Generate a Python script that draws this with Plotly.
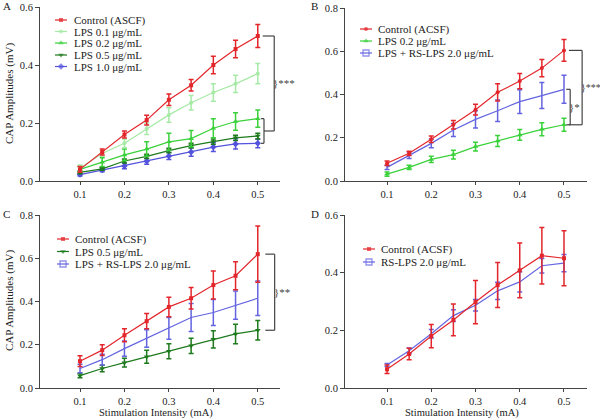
import plotly.graph_objects as go

# Stimulation intensities (mA)
intensity = [0.1, 0.15, 0.2, 0.25, 0.3, 0.35, 0.4, 0.45, 0.5]
x_ticks = [0.1, 0.2, 0.3, 0.4, 0.5]

# Panel A
a_control = [0.04, 0.10, 0.16, 0.21, 0.28, 0.33, 0.40, 0.455, 0.50]
a_control_err = [0.01, 0.01, 0.012, 0.017, 0.02, 0.02, 0.03, 0.03, 0.04]
a_lps01 = [0.045, 0.095, 0.13, 0.18, 0.228, 0.27, 0.305, 0.335, 0.37]
a_lps01_err = [0.01, 0.01, 0.015, 0.02, 0.025, 0.025, 0.03, 0.03, 0.035]
a_lps02 = [0.04, 0.065, 0.09, 0.11, 0.135, 0.146, 0.182, 0.205, 0.215]
a_lps02_err = [0.01, 0.015, 0.02, 0.025, 0.03, 0.028, 0.033, 0.03, 0.03]
a_lps05 = [0.03, 0.042, 0.069, 0.085, 0.105, 0.122, 0.136, 0.149, 0.155]
a_lps05_err = [0.005, 0.005, 0.007, 0.007, 0.008, 0.008, 0.009, 0.009, 0.01]
a_lps10 = [0.022, 0.038, 0.052, 0.068, 0.086, 0.10, 0.117, 0.128, 0.13]
a_lps10_err = [0.005, 0.006, 0.01, 0.01, 0.012, 0.015, 0.015, 0.018, 0.015]

# Panel B
b_control = [0.082, 0.128, 0.193, 0.26, 0.33, 0.41, 0.462, 0.522, 0.604]
b_control_err = [0.01, 0.01, 0.015, 0.02, 0.025, 0.04, 0.035, 0.04, 0.05]
b_lps02 = [0.032, 0.063, 0.10, 0.122, 0.159, 0.185, 0.213, 0.239, 0.26]
b_lps02_err = [0.01, 0.01, 0.015, 0.02, 0.02, 0.025, 0.025, 0.03, 0.03]
b_rs = [0.063, 0.119, 0.174, 0.236, 0.285, 0.325, 0.367, 0.395, 0.424]
b_rs_err = [0.01, 0.015, 0.02, 0.03, 0.04, 0.05, 0.055, 0.06, 0.065]

# Panel C
c_control = [0.124, 0.175, 0.244, 0.309, 0.375, 0.415, 0.476, 0.519, 0.619]
c_control_err = [0.025, 0.025, 0.03, 0.035, 0.045, 0.05, 0.065, 0.065, 0.13]
c_lps05 = [0.057, 0.09, 0.117, 0.144, 0.17, 0.195, 0.225, 0.25, 0.267]
c_lps05_err = [0.01, 0.015, 0.02, 0.03, 0.035, 0.035, 0.04, 0.045, 0.045]
c_rs = [0.09, 0.131, 0.182, 0.229, 0.276, 0.326, 0.349, 0.383, 0.415]
c_rs_err = [0.02, 0.025, 0.035, 0.04, 0.05, 0.065, 0.06, 0.065, 0.08]

# Panel D
d_control = [0.065, 0.118, 0.18, 0.236, 0.298, 0.357, 0.408, 0.459, 0.45]
d_control_err = [0.015, 0.02, 0.04, 0.055, 0.075, 0.078, 0.095, 0.098, 0.095]
d_rs = [0.08, 0.129, 0.188, 0.251, 0.287, 0.337, 0.368, 0.424, 0.433]
d_rs_err = [0.005, 0.01, 0.015, 0.02, 0.02, 0.03, 0.035, 0.025, 0.03]

RED = "#e3262b"
LIGHT_GREEN = "#a6eaa6"
GREEN = "#3ad13a"
DARK_GREEN = "#1d7a1d"
BLUE = "#5252dc"
RS_BLUE = "#6464e0"
AX = "#444444"
FONT = "Liberation Serif"

fig = go.Figure()


def series(y, err, color, symbol, size, xa, ya, open_marker=False):
    marker = dict(color=color, symbol=symbol, size=size)
    if open_marker:
        marker = dict(color="rgba(0,0,0,0)", symbol=symbol, size=size,
                      line=dict(color=color, width=1.3))
    fig.add_trace(go.Scatter(
        x=intensity, y=y, mode="lines+markers", xaxis=xa, yaxis=ya,
        line=dict(color=color, width=1.2), marker=marker,
        error_y=dict(type="data", array=err, color=color, thickness=1.5, width=2.5),
        showlegend=False, hoverinfo="skip"))


series(a_lps10, a_lps10_err, BLUE, "diamond", 5, "x", "y")
series(a_lps05, a_lps05_err, DARK_GREEN, "triangle-down", 5, "x", "y")
series(a_lps02, a_lps02_err, GREEN, "triangle-up", 5, "x", "y")
series(a_lps01, a_lps01_err, LIGHT_GREEN, "circle", 4, "x", "y")
series(a_control, a_control_err, RED, "square", 4, "x", "y")

series(b_lps02, b_lps02_err, GREEN, "triangle-up", 5, "x2", "y2")
series(b_rs, b_rs_err, RS_BLUE, "square-open", 6, "x2", "y2", open_marker=True)
series(b_control, b_control_err, RED, "circle", 4, "x2", "y2")

series(c_lps05, c_lps05_err, DARK_GREEN, "triangle-down", 5, "x3", "y3")
series(c_rs, c_rs_err, RS_BLUE, "square-open", 6, "x3", "y3", open_marker=True)
series(c_control, c_control_err, RED, "square", 4, "x3", "y3")

series(d_rs, d_rs_err, RS_BLUE, "square-open", 6, "x4", "y4", open_marker=True)
series(d_control, d_control_err, RED, "square", 4, "x4", "y4")

# Custom compact legends drawn on an overlay axis in figure pixels
legends = [
    # (row y px, line x0, text x, entries)
    ([20, 31.5, 43, 55, 66.5], 55, 72,
     [("Control (ASCF)", RED, "square", 4), ("LPS 0.1 μg/mL", LIGHT_GREEN, "circle", 4),
      ("LPS 0.2 μg/mL", GREEN, "triangle-up", 5), ("LPS 0.5 μg/mL", DARK_GREEN, "triangle-down", 5),
      ("LPS 1.0 μg/mL", BLUE, "diamond", 5)]),
    ([29, 41, 53], 360, 376,
     [("Control (ACSF)", RED, "circle", 4), ("LPS 0.2 μg/mL", GREEN, "triangle-up", 5),
      ("LPS + RS-LPS 2.0 μg/mL", RS_BLUE, "square-open", 6)]),
    ([239, 251.5, 264], 57, 73,
     [("Control (ACSF)", RED, "square", 4), ("LPS 0.5 μg/mL", DARK_GREEN, "triangle-down", 5),
      ("LPS + RS-LPS 2.0 μg/mL", RS_BLUE, "square-open", 6)]),
    ([249, 262], 363, 379,
     [("Control (ACSF)", RED, "square", 4), ("RS-LPS 2.0 μg/mL", RS_BLUE, "square-open", 6)]),
]

annotations = []
for rows, lx, tx, entries in legends:
    for ry, (name, color, symbol, size) in zip(rows, entries):
        fig.add_trace(go.Scatter(
            x=[lx, lx + 6, lx + 12], y=[ry, ry, ry], mode="lines+markers",
            xaxis="x5", yaxis="y5", line=dict(color=color, width=1.2),
            marker=dict(color=color, symbol=symbol, size=[0, size, 0],
                        line=dict(color=color, width=1.3 if "open" in symbol else 0)),
            showlegend=False, hoverinfo="skip"))
        annotations.append(dict(x=tx, y=ry, xref="x5", yref="y5", text=name,
                                showarrow=False, xanchor="left", yanchor="middle",
                                font=dict(size=11, color="#222")))

# Panel letters and axis titles
for text, px, py, ang, fs in [("A", 2, 6, 0, 11), ("B", 310, 6, 0, 11), ("C", 2, 214, 0, 11),
                              ("D", 310, 214, 0, 11),
                              ("CAP Amplitudes (mV)", 9, 94, -90, 11),
                              ("CAP Amplitudes (mV)", 9, 301, -90, 11),
                              ("Stimulation Intensity (mA)", 156, 413, 0, 10.5),
                              ("Stimulation Intensity (mA)", 462, 413, 0, 10.5)]:
    annotations.append(dict(x=px, y=py, xref="x5", yref="y5", text=text, textangle=ang,
                            showarrow=False, xanchor="left" if len(text) == 1 else "center",
                            yanchor="middle", borderpad=0, font=dict(size=fs, color="#222")))

# Significance brackets (data coordinates)
shapes = []


def seg(xa, ya, x0, y0, x1, y1):
    shapes.append(dict(type="line", xref=xa, yref=ya, x0=x0, y0=y0, x1=x1, y1=y1,
                       line=dict(color=AX, width=1.2)))


def bracket(xa, ya, x_left, x_v, y_top, y_bot, label, size=11):
    seg(xa, ya, x_left, y_top, x_v, y_top)
    seg(xa, ya, x_v, y_top, x_v, y_bot)
    seg(xa, ya, x_left, y_bot, x_v, y_bot)
    annotations.append(dict(x=x_v, y=(y_top + y_bot) / 2, xref=xa, yref=ya,
                            text="}" + label, showarrow=False, xanchor="left",
                            yanchor="middle", xshift=-2, borderpad=0,
                            font=dict(size=size, color=AX)))


# A: small bracket over LPS 0.2-1.0, joined to a large bracket from control
a_mid = (a_lps02[-1] + a_lps10[-1]) / 2
seg("x", "y", 0.507, a_lps02[-1], 0.514, a_lps02[-1])
seg("x", "y", 0.514, a_lps02[-1], 0.514, a_lps10[-1])
seg("x", "y", 0.507, a_lps10[-1], 0.514, a_lps10[-1])
bracket("x", "y", 0.511, 0.537, a_control[-1], a_mid, "***")
shapes.pop()  # bottom arm replaced by link from small bracket
seg("x", "y", 0.514, a_mid, 0.537, a_mid)

# B
bracket("x2", "y2", 0.511, 0.541, b_control[-1], b_lps02[-1], "***", size=10)
bracket("x2", "y2", 0.505, 0.514, b_rs[-1], b_lps02[-1], "*")

# C
bracket("x3", "y3", 0.517, 0.538, c_control[-1], c_lps05[-1], "**")


def xaxis(domain, rng, anchor):
    return dict(domain=domain, range=rng, anchor=anchor, tickvals=x_ticks,
                tickformat=".1f", showline=True, linecolor=AX, linewidth=1,
                ticks="outside", ticklen=3, tickcolor=AX, showgrid=False,
                zeroline=False, automargin=False, tickfont=dict(size=10.5, color="#222"))


def yaxis(domain, top, anchor):
    return dict(domain=domain, range=[0, top], anchor=anchor, dtick=0.2,
                tickformat=".1f", showline=True, linecolor=AX, linewidth=1,
                ticks="outside", ticklen=4, tickcolor=AX, showgrid=False,
                zeroline=False, automargin=False, tickfont=dict(size=10.5, color="#222"))


left_dom = [40 / 600, 280 / 600]
right_dom = [345 / 600, 587 / 600]
top_dom = [1 - 181 / 418, 1 - 7 / 418]
top_dom_b = [1 - 181 / 418, 1 - 8 / 418]
bot_dom = [1 - 388 / 418, 1 - 215 / 418]

fig.update_layout(
    width=600, height=418,
    margin=dict(l=0, r=0, t=0, b=0),
    paper_bgcolor="white", plot_bgcolor="rgba(0,0,0,0)",
    font=dict(family=FONT, size=11, color="#222"),
    xaxis=xaxis(left_dom, [0.01, 0.55], "y"),
    yaxis=yaxis(top_dom, 0.6, "x"),
    xaxis2=xaxis(right_dom, [0.005, 0.552], "y2"),
    yaxis2=yaxis(top_dom_b, 0.8, "x2"),
    xaxis3=xaxis(left_dom, [0.01, 0.55], "y3"),
    yaxis3=yaxis(bot_dom, 0.8, "x3"),
    xaxis4=xaxis(right_dom, [0.005, 0.552], "y4"),
    yaxis4=yaxis(bot_dom, 0.6, "x4"),
    xaxis5=dict(domain=[0, 1], range=[0, 600], visible=False, fixedrange=True,
                anchor="y5", automargin=False),
    yaxis5=dict(domain=[0, 1], range=[418, 0], visible=False, fixedrange=True,
                anchor="x5", automargin=False),
    annotations=annotations,
    shapes=shapes,
    showlegend=False,
)

# the page body has a default 8px margin; drop it so the figure fills the window
fig.write_html("out.html", config={"displayModeBar": False},
               post_script="document.body.style.margin='0';")
